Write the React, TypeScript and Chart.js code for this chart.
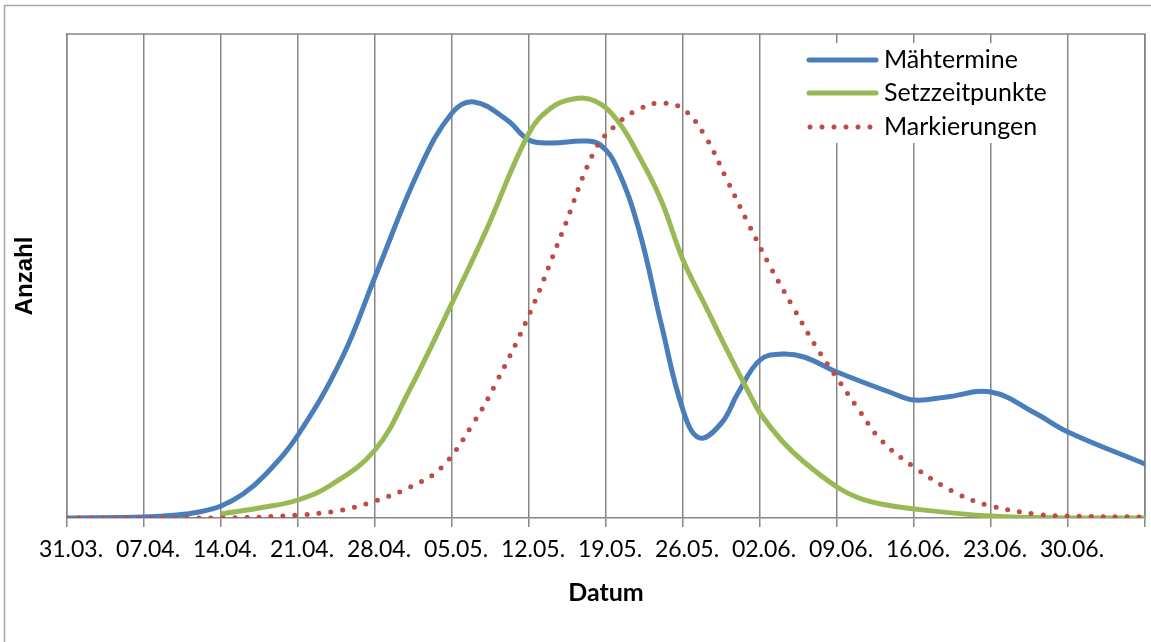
import { useEffect, useRef } from "react";
import { Chart, registerables } from "chart.js";

Chart.register(...registerables);

// x = days after 31.03.
const tickLabels = [
  "31.03.", "07.04.", "14.04.", "21.04.", "28.04.", "05.05.", "12.05.",
  "19.05.", "26.05.", "02.06.", "09.06.", "16.06.", "23.06.", "30.06.", "",
];

const maehDays = [0, 7, 10, 12, 14, 16, 18, 21, 25, 28, 32, 35, 37, 40, 42, 44, 47, 48.5, 50, 52, 54, 56, 57.5, 59.5, 61, 63, 65, 67, 70, 75, 77, 80, 84, 88, 91, 98];
const maehValues = [0, 1, 3, 6, 12, 24, 43, 83, 160, 241, 348, 405, 416, 398, 378, 375, 377, 373, 350, 288, 195, 108, 80, 95, 125, 158, 164, 161, 146, 125, 118, 121, 126, 105, 86, 54];

const setzDays = [14, 18, 21, 24, 28, 31, 35, 38, 42, 44, 46, 48, 50, 52, 54, 56, 58, 60, 62, 63, 65, 67, 70, 72, 74, 77, 84, 91, 98];
const setzValues = [4, 11, 18, 33, 68, 125, 215, 285, 385, 410, 419, 417, 398, 362, 318, 258, 213, 168, 125, 105, 77, 56, 31, 20, 14, 9, 2, 0, 0];

const markDays = [0, 14, 21, 25, 28, 31, 34, 37, 39, 42, 45, 48, 50, 52, 54, 56, 58, 60, 62, 64, 66, 68, 70, 72, 74, 77, 81, 84, 88, 91, 98];
const markValues = [0, 0, 3, 8, 17, 30, 50, 96, 135, 203, 285, 368, 394, 409, 415, 409, 382, 338, 293, 250, 211, 173, 140, 108, 78, 51, 24, 12, 4, 2, 1];

const seriesNames = ["Mähtermine", "Setzzeitpunkte", "Markierungen"];

const toPoints = (xs: number[], ys: number[]) => xs.map((x, i) => ({ x, y: ys[i] }));

const GRID = "#868686";

const framePlugin = {
  id: "frame",
  beforeDraw(chart: any) {
    const ctx = chart.ctx;
    ctx.save();
    ctx.fillStyle = "#ffffff";
    ctx.fillRect(0, 0, chart.width, chart.height);
    ctx.strokeStyle = "#a6a6a6";
    ctx.lineWidth = 1.5;
    ctx.strokeRect(4.5, 5.5, chart.width + 50, chart.height + 50);
    ctx.restore();
  },
  beforeDatasetsDraw(chart: any) {
    const { ctx, chartArea } = chart;
    ctx.save();
    ctx.strokeStyle = GRID;
    ctx.lineWidth = 1.5;
    ctx.beginPath();
    ctx.moveTo(chartArea.left, chartArea.top);
    ctx.lineTo(chartArea.right, chartArea.top);
    ctx.lineTo(chartArea.right, chartArea.bottom);
    ctx.stroke();
    ctx.restore();
  },
};

const legendPlugin = {
  id: "insideLegend",
  afterDatasetsDraw(chart: any) {
    const { ctx, chartArea } = chart;
    ctx.save();
    ctx.fillStyle = "#ffffff";
    const bx = chartArea.left + 725;
    const by = chartArea.top + 9;
    ctx.fillRect(bx, by, 268, 100);
    const rows = [60, 93, 127];
    chart.data.datasets.forEach((ds: any, i: number) => {
      const y = rows[i];
      ctx.strokeStyle = ds.borderColor;
      ctx.lineWidth = 5;
      ctx.lineCap = "round";
      const dotted = ds.borderDash && ds.borderDash.length;
      ctx.setLineDash(dotted ? ds.borderDash : []);
      ctx.beginPath();
      if (dotted) {
        ctx.moveTo(810, y);
        ctx.lineTo(872, y);
      } else {
        ctx.moveTo(809, y);
        ctx.lineTo(876, y);
      }
      ctx.stroke();
      ctx.setLineDash([]);
      ctx.fillStyle = "#000000";
      ctx.font = "25px Lato";
      ctx.textBaseline = "middle";
      ctx.textAlign = "left";
      ctx.fillText(ds.label, 884, y);
    });
    ctx.restore();
  },
};

export default function App() {
  const ref = useRef<HTMLCanvasElement | null>(null);

  useEffect(() => {
    document.body.style.margin = "0";
    if (!ref.current) return;
    const chart = new Chart(ref.current, {
      type: "line",
      data: {
        datasets: [
          {
            label: seriesNames[0],
            data: toPoints(maehDays, maehValues),
            borderColor: "#4A7EBB",
            borderWidth: 5,
            pointRadius: 0,
            tension: 0.4,
            borderCapStyle: "round",
            fill: false,
            order: 2,
          },
          {
            label: seriesNames[1],
            data: toPoints(setzDays, setzValues),
            borderColor: "#98B954",
            borderWidth: 5,
            pointRadius: 0,
            tension: 0.4,
            fill: false,
            order: 1,
          },
          {
            label: seriesNames[2],
            data: toPoints(markDays, markValues),
            borderColor: "#BE4B48",
            borderWidth: 5,
            borderDash: [0, 12],
            borderCapStyle: "round",
            pointRadius: 0,
            tension: 0.4,
            fill: false,
            order: 0,
          },
        ],
      },
      options: {
        animation: false,
        responsive: false,
        layout: { padding: { top: 34, right: 6, left: 0, bottom: 0 } },
        plugins: {
          legend: { display: false },
          tooltip: { enabled: false },
        },
        scales: {
          x: {
            type: "linear",
            min: 0,
            max: 98,
            afterFit: (s: any) => {
              s.height = 124;
              s.paddingLeft = 0;
              s.paddingRight = 0;
            },
            ticks: {
              stepSize: 7,
              autoSkip: false,
              maxRotation: 0,
              padding: 9,
              labelOffset: 4,
              color: "#000000",
              font: { family: "Lato", size: 23 },
              callback: (v: any) => tickLabels[Math.round(Number(v) / 7)] ?? "",
            },
            grid: { color: GRID, lineWidth: 1.5, tickLength: 9, drawTicks: true },
            border: { color: GRID, width: 1.5 },
            title: {
              display: true,
              text: "Datum",
              color: "#000000",
              font: { family: "Lato", size: 25, weight: "bold" },
              padding: { top: 0, bottom: 34 },
            },
          },
          y: {
            min: 0,
            max: 484,
            afterFit: (s: any) => {
              s.width = 67;
            },
            ticks: { display: false },
            grid: { display: false },
            border: { color: GRID, width: 1.5 },
            title: {
              display: true,
              text: "Anzahl",
              color: "#000000",
              font: { family: "Liberation Sans", size: 24, weight: "bold" },
              padding: { top: 11, bottom: 0 },
            },
          },
        },
      },
      plugins: [framePlugin, legendPlugin],
    } as any);
    return () => chart.destroy();
  }, []);

  return (
    <div style={{ position: "absolute", left: 0, top: 0, width: 1151, height: 642 }}>
      <canvas ref={ref} width={1151} height={642} style={{ display: "block", width: 1151, height: 642 }} />
    </div>
  );
}
